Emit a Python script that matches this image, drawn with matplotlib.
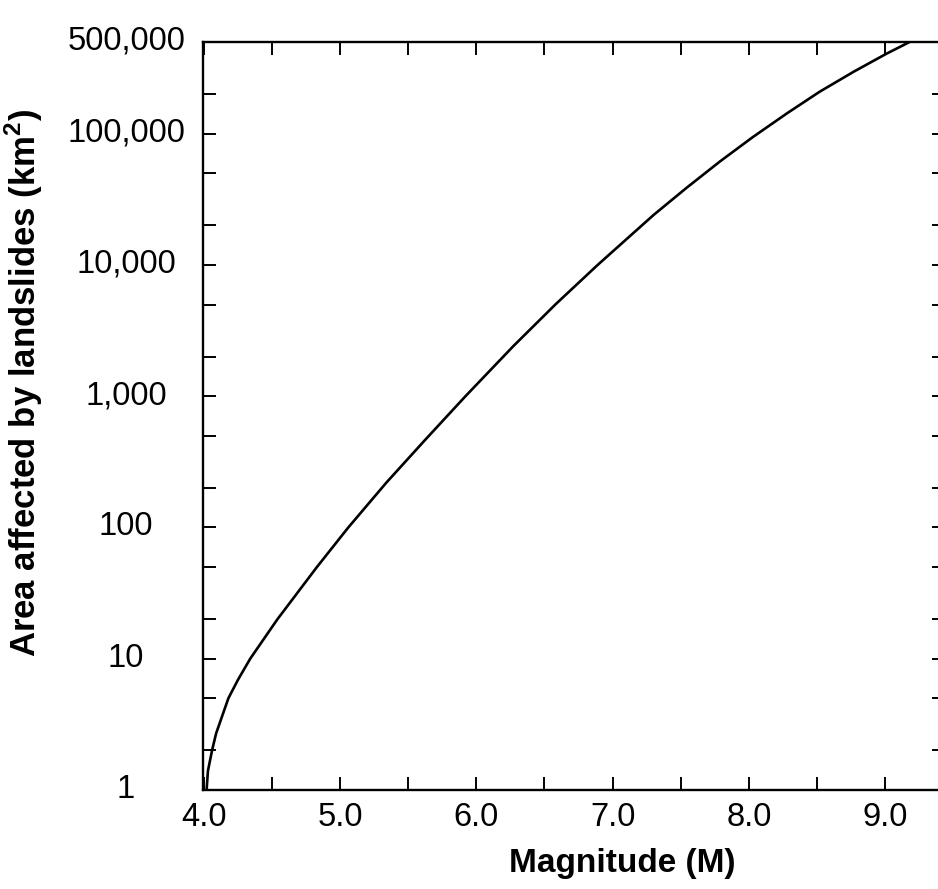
import numpy as np
import matplotlib
matplotlib.use("Agg")
import matplotlib.pyplot as plt
import matplotlib.transforms as mtrans
from matplotlib.ticker import FixedLocator, NullFormatter

plt.rcParams['font.family'] = ['Liberation Sans', 'DejaVu Sans']
plt.rcParams['mathtext.fontset'] = 'custom'
plt.rcParams['mathtext.rm'] = 'Liberation Sans'
plt.rcParams['mathtext.bf'] = 'Liberation Sans:bold'

# curve: magnitude vs area (km2)
magnitude = [4.02, 4.03, 4.06, 4.09, 4.18, 4.25, 4.34, 4.54, 4.83, 5.06,
             5.34, 5.62, 5.92, 6.27, 6.58, 6.89, 7.30, 7.54, 7.79, 8.03,
             8.28, 8.52, 8.77, 9.01, 9.18]
area = [1, 1.4, 2, 2.7, 5, 6.9, 10, 20, 50, 100,
        220, 460, 1000, 2400, 5000, 10000, 24000, 38500, 61700, 94400,
        143000, 209000, 297000, 407000, 500000]

x_major = [4.0, 5.0, 6.0, 7.0, 8.0, 9.0]
x_minor = [4.5, 5.5, 6.5, 7.5, 8.5]
x_labels = ["4.0", "5.0", "6.0", "7.0", "8.0", "9.0"]

y_major = [1, 10, 100, 1000, 10000, 100000, 500000]
y_minor = [2, 5, 20, 50, 200, 500, 2000, 5000, 20000, 50000, 200000]
y_labels = ["1", "10", "100", "1,000", "10,000", "100,000", "500,000"]

fig = plt.figure(figsize=(9.38, 8.89), dpi=100)
ax = fig.add_axes([202.5 / 938, 99 / 889, 742.5 / 938, 748 / 889])

ax.plot(magnitude, area, color="black", linewidth=1.9,
        solid_joinstyle="round", solid_capstyle="round")

ax.set_yscale("log")
ax.set_xlim(3.99, 9.44)
ax.set_ylim(1, 500000)

ax.xaxis.set_major_locator(FixedLocator(x_major))
ax.xaxis.set_minor_locator(FixedLocator(x_minor))
ax.set_xticklabels(x_labels)
ax.yaxis.set_major_locator(FixedLocator(y_major))
ax.yaxis.set_minor_locator(FixedLocator(y_minor))
ax.yaxis.set_minor_formatter(NullFormatter())
ax.set_yticklabels(y_labels)

for s in ax.spines.values():
    s.set_linewidth(1.7)

ax.tick_params(which="both", direction="in", length=9.5, width=1.4,
               top=True, right=True, labelsize=23.5)
ax.tick_params(axis="x", pad=9)
ax.tick_params(axis="y", pad=55)

# labels sit a few pixels above their ticks in the original
shift = mtrans.ScaledTranslation(0, 4 / 100, fig.dpi_scale_trans)
for lab in ax.get_yticklabels():
    lab.set_horizontalalignment("center")
    lab.set_transform(lab.get_transform() + shift)

ax.set_xlabel("Magnitude (M)", fontsize=24, fontweight="bold")
ax.xaxis.set_label_coords(0.565, -0.077)
ax.set_ylabel(r"Area affected by landslides (km$^{\mathbf{2}}$)",
              fontsize=25, fontweight="bold")
ax.yaxis.set_label_coords(-0.212, 0.544)

fig.savefig("out.png", dpi=100)
